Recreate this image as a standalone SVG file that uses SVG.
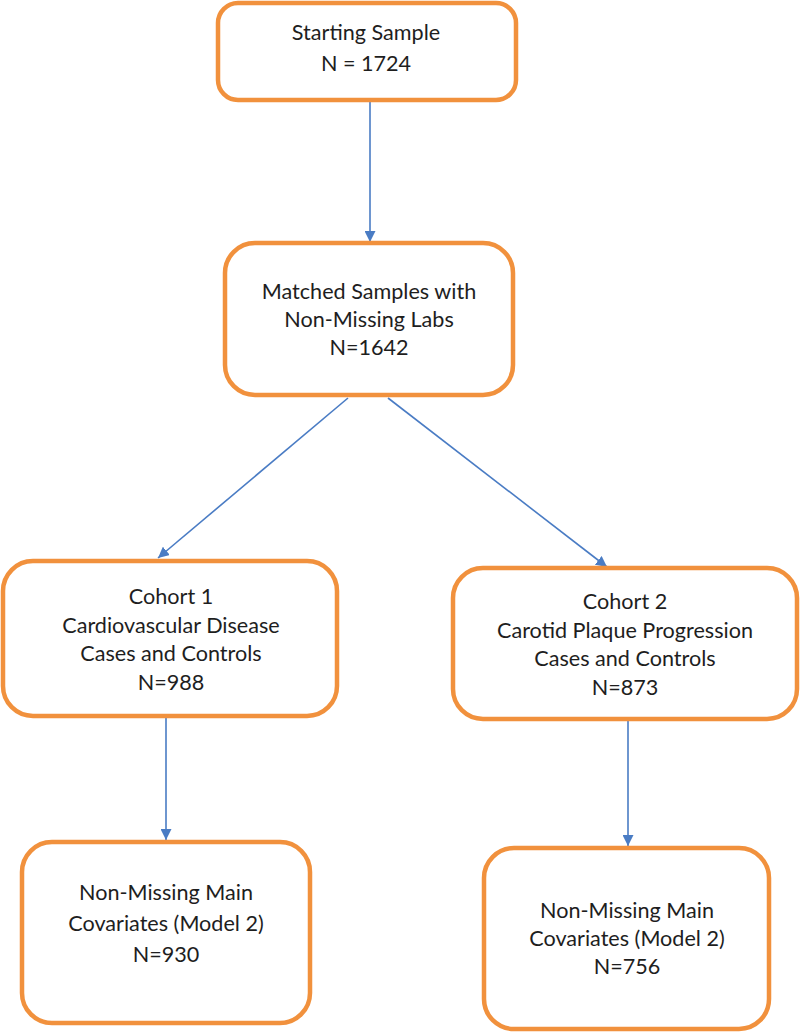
<svg xmlns="http://www.w3.org/2000/svg" width="800" height="1032" viewBox="0 0 800 1032">
<defs>
<style>
.box{fill:#fff;stroke:#F1913D;stroke-width:4.5}
.t{font-family:Lato,"Open Sans","Liberation Sans",sans-serif;font-size:21.6px;fill:#1e1e1e;text-anchor:middle}
.c{stroke:#4A7CC4;stroke-width:1.6;fill:none;marker-end:url(#ah)}
</style>
<marker id="ah" viewBox="0 0 10 10" refX="10" refY="5" markerWidth="11" markerHeight="11" markerUnits="userSpaceOnUse" orient="auto">
<path d="M0,0 L10,5 L0,10 z" fill="#4A7CC4"/>
</marker>
</defs>
<rect width="800" height="1032" fill="#fff"/>
<g id="connectors">
<line class="c" x1="370" y1="100" x2="370" y2="242"/>
<line class="c" x1="348" y1="398" x2="158" y2="558"/>
<line class="c" x1="388" y1="398" x2="607" y2="567"/>
<line class="c" x1="166" y1="716" x2="166" y2="840"/>
<line class="c" x1="628" y1="719" x2="628" y2="846"/>
</g>
<g id="n1">
<rect class="box" x="218" y="3" width="298" height="97" rx="20"/>
<text class="t" x="366" y="40">Starting Sample</text>
<text class="t" x="366" y="71">N = 1724</text>
</g>
<g id="n2">
<rect class="box" x="225" y="243" width="288" height="152" rx="30"/>
<text class="t" x="369" y="299">Matched Samples with</text>
<text class="t" x="369" y="327">Non-Missing Labs</text>
<text class="t" x="369" y="355">N=1642</text>
</g>
<g id="n3">
<rect class="box" x="3" y="561" width="334" height="155" rx="30"/>
<text class="t" x="171" y="604">Cohort 1</text>
<text class="t" x="171" y="633">Cardiovascular Disease</text>
<text class="t" x="171" y="661">Cases and Controls</text>
<text class="t" x="171" y="690">N=988</text>
</g>
<g id="n4">
<rect class="box" x="453" y="568" width="344" height="151" rx="30"/>
<text class="t" x="625" y="609">Cohort 2</text>
<text class="t" x="625" y="638">Carotid Plaque Progression</text>
<text class="t" x="625" y="666">Cases and Controls</text>
<text class="t" x="625" y="695">N=873</text>
</g>
<g id="n5">
<rect class="box" x="22" y="842" width="288" height="181" rx="30"/>
<text class="t" x="166" y="900">Non-Missing Main</text>
<text class="t" x="166" y="931">Covariates (Model 2)</text>
<text class="t" x="166" y="962">N=930</text>
</g>
<g id="n6">
<rect class="box" x="484" y="848" width="285" height="181" rx="30"/>
<text class="t" x="627" y="918">Non-Missing Main</text>
<text class="t" x="627" y="946">Covariates (Model 2)</text>
<text class="t" x="627" y="974">N=756</text>
</g>
</svg>
